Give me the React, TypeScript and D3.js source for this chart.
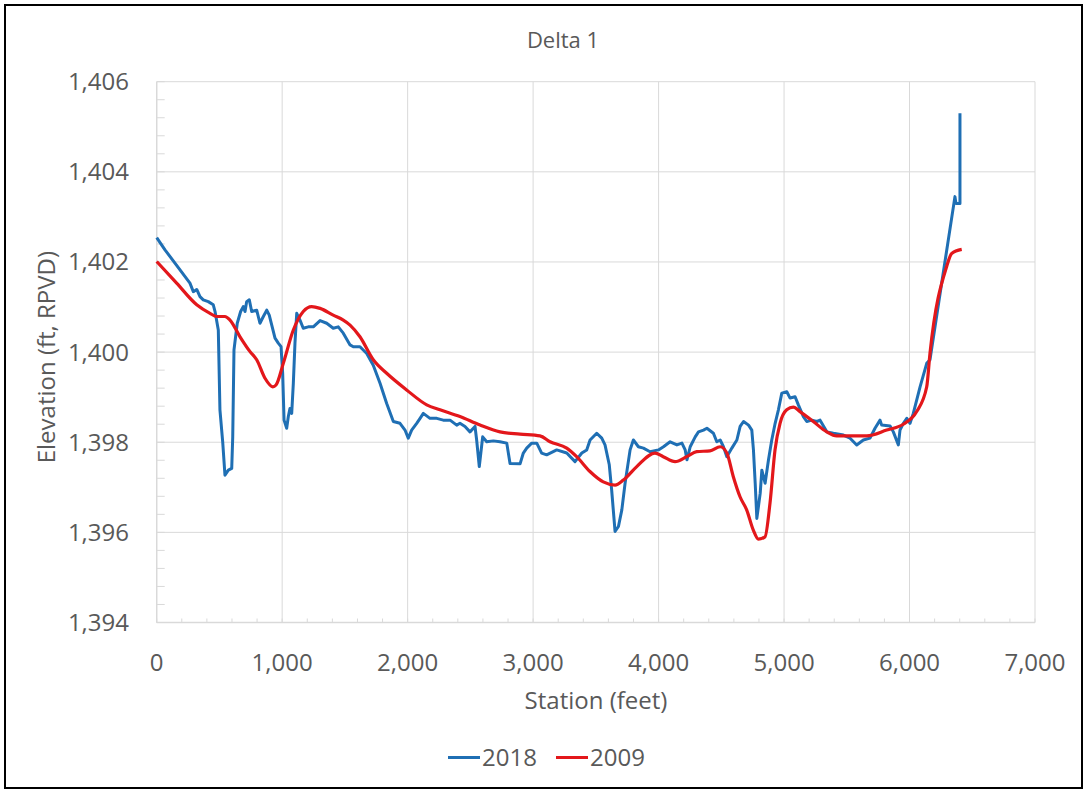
import React from 'react';
import * as d3 from 'd3';

// 2018 survey (station ft, elevation ft)
const station2018 = [0, 66, 265, 292, 319, 345, 371, 411, 451, 465, 491, 504, 526, 544, 571, 598, 606, 616, 642, 669, 690, 704, 717, 738, 757, 797, 823, 850, 877, 897, 917, 943, 969, 991, 1004, 1015, 1036, 1049, 1062, 1076, 1089, 1102, 1116, 1142, 1168, 1208, 1248, 1302, 1355, 1407, 1447, 1487, 1541, 1567, 1620, 1674, 1726, 1780, 1833, 1886, 1939, 1979, 2005, 2032, 2072, 2099, 2125, 2178, 2232, 2284, 2338, 2391, 2417, 2457, 2497, 2537, 2550, 2571, 2598, 2630, 2683, 2736, 2790, 2816, 2896, 2922, 2949, 2989, 3029, 3068, 3108, 3188, 3268, 3334, 3388, 3427, 3454, 3507, 3547, 3573, 3607, 3626, 3653, 3680, 3707, 3733, 3773, 3799, 3839, 3879, 3932, 3999, 4039, 4092, 4146, 4186, 4212, 4226, 4252, 4292, 4318, 4358, 4385, 4437, 4464, 4491, 4517, 4544, 4584, 4624, 4650, 4677, 4717, 4743, 4756, 4770, 4783, 4810, 4823, 4849, 4876, 4902, 4929, 4955, 4982, 5022, 5048, 5088, 5114, 5154, 5181, 5221, 5261, 5287, 5341, 5393, 5473, 5526, 5579, 5632, 5685, 5725, 5765, 5778, 5845, 5871, 5911, 5924, 5951, 5978, 6004, 6030, 6084, 6137, 6163, 6260, 6362, 6370, 6402, 6402];
const elev2018 = [1402.54, 1402.27, 1401.53, 1401.34, 1401.39, 1401.23, 1401.16, 1401.12, 1401.05, 1400.90, 1400.49, 1398.72, 1398.01, 1397.27, 1397.38, 1397.42, 1398.12, 1400.05, 1400.64, 1400.90, 1401.01, 1400.90, 1401.12, 1401.16, 1400.90, 1400.93, 1400.64, 1400.79, 1400.93, 1400.82, 1400.60, 1400.31, 1400.20, 1400.12, 1399.53, 1398.49, 1398.31, 1398.57, 1398.75, 1398.64, 1399.31, 1400.20, 1400.86, 1400.71, 1400.53, 1400.56, 1400.56, 1400.70, 1400.64, 1400.53, 1400.56, 1400.42, 1400.16, 1400.12, 1400.12, 1399.97, 1399.71, 1399.31, 1398.86, 1398.46, 1398.42, 1398.27, 1398.09, 1398.27, 1398.42, 1398.53, 1398.64, 1398.53, 1398.53, 1398.49, 1398.49, 1398.38, 1398.42, 1398.35, 1398.23, 1398.35, 1398.05, 1397.46, 1398.12, 1398.01, 1398.03, 1398.01, 1397.98, 1397.53, 1397.52, 1397.76, 1397.87, 1397.98, 1397.98, 1397.76, 1397.72, 1397.83, 1397.76, 1397.57, 1397.76, 1397.83, 1398.05, 1398.20, 1398.09, 1397.94, 1397.50, 1396.94, 1396.02, 1396.13, 1396.50, 1397.09, 1397.83, 1398.05, 1397.90, 1397.87, 1397.79, 1397.83, 1397.90, 1398.01, 1397.94, 1397.98, 1397.83, 1397.61, 1397.90, 1398.12, 1398.23, 1398.27, 1398.31, 1398.20, 1398.01, 1398.05, 1397.90, 1397.68, 1397.87, 1398.05, 1398.35, 1398.46, 1398.38, 1398.27, 1397.83, 1397.09, 1396.31, 1396.87, 1397.38, 1397.09, 1397.61, 1398.05, 1398.42, 1398.72, 1399.09, 1399.12, 1398.98, 1399.01, 1398.83, 1398.57, 1398.46, 1398.49, 1398.46, 1398.49, 1398.23, 1398.20, 1398.16, 1398.09, 1397.94, 1398.05, 1398.09, 1398.31, 1398.49, 1398.38, 1398.36, 1398.23, 1397.94, 1398.27, 1398.42, 1398.53, 1398.42, 1398.64, 1399.23, 1399.75, 1399.83, 1401.60, 1403.45, 1403.30, 1403.30, 1405.30];

// 2009 survey
const station2009 = [0, 159, 319, 425, 478, 544, 584, 664, 744, 797, 863, 925, 951, 1009, 1089, 1168, 1235, 1302, 1407, 1487, 1541, 1620, 1726, 1833, 1992, 2152, 2258, 2417, 2577, 2736, 2896, 3055, 3135, 3268, 3347, 3453, 3559, 3653, 3719, 3826, 3971, 4037, 4131, 4224, 4304, 4410, 4491, 4544, 4595, 4649, 4702, 4755, 4795, 4848, 4888, 4928, 4968, 5021, 5074, 5127, 5233, 5340, 5419, 5552, 5659, 5818, 5950, 6057, 6137, 6163, 6296, 6336, 6416];
const elev2009 = [1402.01, 1401.53, 1401.05, 1400.86, 1400.79, 1400.79, 1400.71, 1400.34, 1400.01, 1399.83, 1399.42, 1399.23, 1399.27, 1399.75, 1400.49, 1400.90, 1401.01, 1400.97, 1400.82, 1400.71, 1400.60, 1400.34, 1399.83, 1399.53, 1399.16, 1398.83, 1398.72, 1398.57, 1398.38, 1398.23, 1398.18, 1398.14, 1398.01, 1397.87, 1397.68, 1397.35, 1397.12, 1397.05, 1397.16, 1397.46, 1397.76, 1397.68, 1397.57, 1397.68, 1397.79, 1397.81, 1397.90, 1397.76, 1397.24, 1396.79, 1396.50, 1396.05, 1395.85, 1395.90, 1396.65, 1397.83, 1398.42, 1398.72, 1398.78, 1398.68, 1398.46, 1398.23, 1398.14, 1398.14, 1398.14, 1398.27, 1398.40, 1398.68, 1399.23, 1399.97, 1401.90, 1402.19, 1402.28];

const xTicks = [0, 1000, 2000, 3000, 4000, 5000, 6000, 7000];
const yTicks = [1394, 1396, 1398, 1400, 1402, 1404, 1406];
const seriesNames = ['2018', '2009'];
const seriesColors = ['#1f6fb4', '#e3171b'];

const W = 1089;
const H = 791;
const left = 156.7, right = 1035, top = 81.7, bottom = 622.5;
const FONT = '"Open Sans", sans-serif';
const TXT = '#595959';
const GRID = '#d9d9d9';

export default function App() {
  const x = d3.scaleLinear().domain([0, 7000]).range([left, right]);
  const y = d3.scaleLinear().domain([1394, 1406]).range([bottom, top]);
  const fmt = d3.format(',');

  const blue = d3.line<number>()
    .x((d, i) => x(station2018[i]))
    .y(d => y(d))(elev2018);
  const red = d3.line<number>()
    .x((d, i) => x(station2009[i]))
    .y(d => y(d))
    .curve(d3.curveMonotoneX)(elev2009);

  const yMinor = d3.range(1394, 1406.001, 0.4);
  const xMinor = d3.range(0, 7000.001, 200);

  return (
    <svg width={W} height={H} style={{ position: 'absolute', left: 0, top: 0, background: '#fff' }}>
      <rect x={5} y={5} width={1077} height={783} fill="#fff" stroke="#000" strokeWidth={2} />

      {yTicks.map(t => (
        <line key={'gy' + t} x1={left} x2={right} y1={y(t)} y2={y(t)} stroke={GRID} strokeWidth={1} />
      ))}
      {xTicks.map(t => (
        <line key={'gx' + t} x1={x(t)} x2={x(t)} y1={top} y2={bottom} stroke={GRID} strokeWidth={1} />
      ))}
      {yMinor.map((t, i) => (
        <line key={'my' + i} x1={left} x2={left + 8} y1={y(t)} y2={y(t)} stroke={GRID} strokeWidth={1} />
      ))}
      {xMinor.map((t, i) => (
        <line key={'mx' + i} x1={x(t)} x2={x(t)} y1={bottom} y2={bottom - 4} stroke={GRID} strokeWidth={1} />
      ))}
      <line x1={left} x2={left} y1={top} y2={bottom} stroke={GRID} strokeWidth={1.3} />
      <line x1={left} x2={right} y1={bottom} y2={bottom} stroke={GRID} strokeWidth={1.3} />

      <path d={blue || ''} fill="none" stroke={seriesColors[0]} strokeWidth={3} strokeLinejoin="round" />
      <path d={red || ''} fill="none" stroke={seriesColors[1]} strokeWidth={3.2} strokeLinejoin="round" />

      {yTicks.map(t => (
        <text key={'ly' + t} x={129} y={y(t)} dy="0.35em" textAnchor="end" fontFamily={FONT} fontSize={24} fill={TXT}>{fmt(t)}</text>
      ))}
      {xTicks.map(t => (
        <text key={'lx' + t} x={x(t)} y={663} dy="0.35em" textAnchor="middle" fontFamily={FONT} fontSize={24} fill={TXT}>{fmt(t)}</text>
      ))}

      <text x={563} y={40} dy="0.35em" textAnchor="middle" fontFamily={FONT} fontSize={22} fill={TXT}>Delta 1</text>
      <text x={596} y={701} dy="0.35em" textAnchor="middle" fontFamily={FONT} fontSize={24} fill={TXT}>Station (feet)</text>
      <text transform={`translate(47,${(top + bottom) / 2 + 5}) rotate(-90)`} dy="0.35em" textAnchor="middle" fontFamily={FONT} fontSize={24} fill={TXT}>Elevation (ft, RPVD)</text>

      {seriesNames.map((s, i) => {
        const lx = i === 0 ? 448 : 556;
        return (
          <g key={s}>
            <line x1={lx} x2={lx + 32} y1={757.5} y2={757.5} stroke={seriesColors[i]} strokeWidth={3} />
            <text x={lx + 34} y={757.5} dy="0.35em" fontFamily={FONT} fontSize={24} fill={TXT}>{s}</text>
          </g>
        );
      })}
    </svg>
  );
}
